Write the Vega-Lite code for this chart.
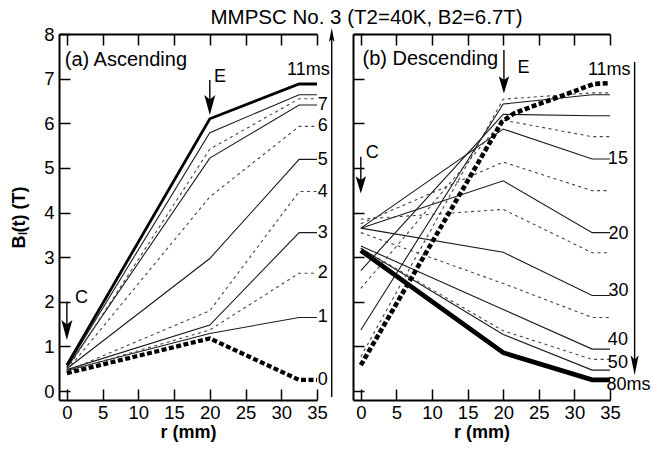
{
  "$schema": "https://vega.github.io/schema/vega-lite/v6.json",
  "padding": {"left": 10, "top": 7, "right": 0, "bottom": 0},
  "title": {"text": "MMPSC No. 3 (T2=40K, B2=6.7T)", "fontSize": 20.5, "fontWeight": "normal", "font": "Liberation Sans", "color": "black", "anchor": "middle", "dx": 36, "offset": -3},
  "spacing": 36,
  "bounds": "flush",
  "config": {
    "font": "Liberation Sans",
    "view": {"stroke": null},
    "axis": {"domainColor": "black", "domainWidth": 2, "tickColor": "black", "tickWidth": 1.5, "tickSize": -11, "labelFont": "Liberation Sans", "labelFontSize": 18.5, "labelColor": "black", "grid": false, "titleFont": "Liberation Sans", "titleFontSize": 18, "titleFontWeight": "bold", "titleColor": "black", "labelFlush": false},
    "text": {"font": "Liberation Sans", "fontSize": 18, "align": "left", "baseline": "middle", "color": "black"}
  },
  "datasets": {
    "lines": [
      {"p":"a","id":"a11","s":"thick","r":0,"B":0.58},{"p":"a","id":"a11","s":"thick","r":20,"B":6.10},{"p":"a","id":"a11","s":"thick","r":32.5,"B":6.88},{"p":"a","id":"a11","s":"thick","r":35,"B":6.88},
      {"p":"a","id":"a9","s":"solid","r":0,"B":0.54},{"p":"a","id":"a9","s":"solid","r":20,"B":5.79},{"p":"a","id":"a9","s":"solid","r":32.5,"B":6.64},{"p":"a","id":"a9","s":"solid","r":35,"B":6.64},
      {"p":"a","id":"a8","s":"dash","r":0,"B":0.48},{"p":"a","id":"a8","s":"dash","r":20,"B":5.42},{"p":"a","id":"a8","s":"dash","r":32.5,"B":6.55},{"p":"a","id":"a8","s":"dash","r":35,"B":6.55},
      {"p":"a","id":"a7","s":"solid","r":0,"B":0.52},{"p":"a","id":"a7","s":"solid","r":20,"B":5.22},{"p":"a","id":"a7","s":"solid","r":32.5,"B":6.41},{"p":"a","id":"a7","s":"solid","r":35,"B":6.41},
      {"p":"a","id":"a6","s":"dash","r":0,"B":0.46},{"p":"a","id":"a6","s":"dash","r":20,"B":4.35},{"p":"a","id":"a6","s":"dash","r":32.5,"B":5.93},{"p":"a","id":"a6","s":"dash","r":35,"B":5.93},
      {"p":"a","id":"a5","s":"solid","r":0,"B":0.50},{"p":"a","id":"a5","s":"solid","r":20,"B":2.97},{"p":"a","id":"a5","s":"solid","r":32.5,"B":5.19},{"p":"a","id":"a5","s":"solid","r":35,"B":5.19},
      {"p":"a","id":"a4","s":"dash","r":0,"B":0.45},{"p":"a","id":"a4","s":"dash","r":20,"B":1.80},{"p":"a","id":"a4","s":"dash","r":32.5,"B":4.47},{"p":"a","id":"a4","s":"dash","r":35,"B":4.47},
      {"p":"a","id":"a3","s":"solid","r":0,"B":0.48},{"p":"a","id":"a3","s":"solid","r":20,"B":1.48},{"p":"a","id":"a3","s":"solid","r":32.5,"B":3.55},{"p":"a","id":"a3","s":"solid","r":35,"B":3.55},
      {"p":"a","id":"a2","s":"dash","r":0,"B":0.44},{"p":"a","id":"a2","s":"dash","r":20,"B":1.37},{"p":"a","id":"a2","s":"dash","r":32.5,"B":2.64},{"p":"a","id":"a2","s":"dash","r":35,"B":2.64},
      {"p":"a","id":"a1","s":"solid","r":0,"B":0.46},{"p":"a","id":"a1","s":"solid","r":20,"B":1.29},{"p":"a","id":"a1","s":"solid","r":32.5,"B":1.65},{"p":"a","id":"a1","s":"solid","r":35,"B":1.65},
      {"p":"a","id":"a0","s":"thickdash","r":0,"B":0.40},{"p":"a","id":"a0","s":"thickdash","r":20,"B":1.18},{"p":"a","id":"a0","s":"thickdash","r":32.5,"B":0.25},{"p":"a","id":"a0","s":"thickdash","r":35,"B":0.25},

      {"p":"b","id":"b11","s":"thickdash","r":0,"B":0.58},{"p":"b","id":"b11","s":"thickdash","r":19.8,"B":6.03},{"p":"b","id":"b11","s":"thickdash","r":21.5,"B":6.22},{"p":"b","id":"b11","s":"thickdash","r":24.8,"B":6.42},{"p":"b","id":"b11","s":"thickdash","r":28.5,"B":6.63},{"p":"b","id":"b11","s":"thickdash","r":32.7,"B":6.88},{"p":"b","id":"b11","s":"thickdash","r":35,"B":6.9},
      {"p":"b","id":"b11a","s":"dash","r":0,"B":0.77},{"p":"b","id":"b11a","s":"dash","r":20,"B":6.54},{"p":"b","id":"b11a","s":"dash","r":32.5,"B":6.68},{"p":"b","id":"b11a","s":"dash","r":35,"B":6.68},
      {"p":"b","id":"b12","s":"solid","r":0,"B":1.37},{"p":"b","id":"b12","s":"solid","r":20,"B":6.43},{"p":"b","id":"b12","s":"solid","r":32.5,"B":6.64},{"p":"b","id":"b12","s":"solid","r":35,"B":6.64},
      {"p":"b","id":"b13","s":"solid","r":0,"B":2.7},{"p":"b","id":"b13","s":"solid","r":20,"B":6.20},{"p":"b","id":"b13","s":"solid","r":32.5,"B":6.17},{"p":"b","id":"b13","s":"solid","r":35,"B":6.17},
      {"p":"b","id":"b14","s":"dash","r":0,"B":2.3},{"p":"b","id":"b14","s":"dash","r":20,"B":6.07},{"p":"b","id":"b14","s":"dash","r":32.5,"B":5.70},{"p":"b","id":"b14","s":"dash","r":35,"B":5.70},
      {"p":"b","id":"b15","s":"solid","r":0,"B":3.65},{"p":"b","id":"b15","s":"solid","r":20,"B":5.87},{"p":"b","id":"b15","s":"solid","r":32.5,"B":5.20},{"p":"b","id":"b15","s":"solid","r":35,"B":5.20},
      {"p":"b","id":"b17","s":"dash","r":0,"B":3.75},{"p":"b","id":"b17","s":"dash","r":20,"B":5.13},{"p":"b","id":"b17","s":"dash","r":32.5,"B":4.49},{"p":"b","id":"b17","s":"dash","r":35,"B":4.49},
      {"p":"b","id":"b20","s":"solid","r":0,"B":3.65},{"p":"b","id":"b20","s":"solid","r":20,"B":4.71},{"p":"b","id":"b20","s":"solid","r":32.5,"B":3.55},{"p":"b","id":"b20","s":"solid","r":35,"B":3.55},
      {"p":"b","id":"b25","s":"dash","r":0,"B":3.85},{"p":"b","id":"b25","s":"dash","r":20,"B":4.07},{"p":"b","id":"b25","s":"dash","r":32.5,"B":3.10},{"p":"b","id":"b25","s":"dash","r":35,"B":3.10},
      {"p":"b","id":"b30","s":"solid","r":0,"B":3.65},{"p":"b","id":"b30","s":"solid","r":20,"B":3.11},{"p":"b","id":"b30","s":"solid","r":32.5,"B":2.14},{"p":"b","id":"b30","s":"solid","r":35,"B":2.14},
      {"p":"b","id":"b35","s":"dash","r":0,"B":3.55},{"p":"b","id":"b35","s":"dash","r":20,"B":2.41},{"p":"b","id":"b35","s":"dash","r":32.5,"B":1.65},{"p":"b","id":"b35","s":"dash","r":35,"B":1.65},
      {"p":"b","id":"b40","s":"solid","r":0,"B":3.25},{"p":"b","id":"b40","s":"solid","r":20,"B":1.83},{"p":"b","id":"b40","s":"solid","r":32.5,"B":0.94},{"p":"b","id":"b40","s":"solid","r":35,"B":0.94},
      {"p":"b","id":"b50","s":"dash","r":0,"B":3.2},{"p":"b","id":"b50","s":"dash","r":20,"B":1.35},{"p":"b","id":"b50","s":"dash","r":32.5,"B":0.71},{"p":"b","id":"b50","s":"dash","r":35,"B":0.71},
      {"p":"b","id":"b60","s":"solid","r":0,"B":3.2},{"p":"b","id":"b60","s":"solid","r":20,"B":1.27},{"p":"b","id":"b60","s":"solid","r":32.5,"B":0.47},{"p":"b","id":"b60","s":"solid","r":35,"B":0.47},
      {"p":"b","id":"b80","s":"heavy","r":0,"B":3.15},{"p":"b","id":"b80","s":"heavy","r":20,"B":0.86},{"p":"b","id":"b80","s":"heavy","r":32.5,"B":0.25},{"p":"b","id":"b80","s":"heavy","r":35,"B":0.25}
    ],
    "labels": [
      {"p":"a","k":"head","r":-0.3,"B":7.42,"t":"(a) Ascending"},
      {"p":"a","k":"tag","r":20.6,"B":7.04,"t":"E"},
      {"p":"a","k":"tag","r":1.14,"B":2.09,"t":"C"},
      {"p":"a","k":"tag","r":30.8,"B":7.2,"t":"11ms"},
      {"p":"a","k":"tag","r":35.1,"B":6.41,"t":"7"},
      {"p":"a","k":"tag","r":35.1,"B":5.93,"t":"6"},
      {"p":"a","k":"tag","r":35.1,"B":5.18,"t":"5"},
      {"p":"a","k":"tag","r":35.1,"B":4.47,"t":"4"},
      {"p":"a","k":"tag","r":35.1,"B":3.54,"t":"3"},
      {"p":"a","k":"tag","r":35.1,"B":2.64,"t":"2"},
      {"p":"a","k":"tag","r":35.1,"B":1.65,"t":"1"},
      {"p":"a","k":"tag","r":35.1,"B":0.25,"t":"0"},
      {"p":"b","k":"head","r":0.24,"B":7.43,"t":"(b) Descending"},
      {"p":"b","k":"tag","r":22.0,"B":7.23,"t":"E"},
      {"p":"b","k":"tag","r":0.7,"B":5.33,"t":"C"},
      {"p":"b","k":"tag","r":31.9,"B":7.2,"t":"11ms"},
      {"p":"b","k":"tag","r":34.7,"B":5.2,"t":"15"},
      {"p":"b","k":"tag","r":34.8,"B":3.52,"t":"20"},
      {"p":"b","k":"tag","r":34.8,"B":2.24,"t":"30"},
      {"p":"b","k":"tag","r":34.7,"B":1.14,"t":"40"},
      {"p":"b","k":"tag","r":34.7,"B":0.63,"t":"50"},
      {"p":"b","k":"tag","r":34.5,"B":0.13,"t":"80ms"}
    ],
    "arrows": [
      {"p":"a","r":20,"B":6.97,"B2":6.45},
      {"p":"a","r":0,"B":2.0,"B2":1.45},
      {"p":"a","r":37.06,"B":-0.13,"B2":7.95},
      {"p":"b","r":20.1,"B":7.64,"B2":6.9},
      {"p":"b","r":0,"B":5.25,"B2":4.7},
      {"p":"b","r":38.46,"B":7.37,"B2":0.6}
    ],
    "heads": [
      {"p":"a","k":"mark","r":20,"B":6.41},
      {"p":"a","k":"mark","r":0,"B":1.37},
      {"p":"a","k":"up","r":37.06,"B":7.98},
      {"p":"b","k":"mark","r":20.1,"B":6.86},
      {"p":"b","k":"mark","r":0,"B":4.62},
      {"p":"b","k":"down","r":38.46,"B":0.58}
    ]
  },
  "hconcat": [
    {
      "width": 258,
      "height": 366,
      "resolve": {"scale": {"x": "shared", "y": "shared"}, "axis": {"x": "independent"}},
      "layer": [
        {
          "data": {"name": "lines"},
          "transform": [{"filter": "datum.p === 'a' && datum.s === 'solid'"}],
          "mark": {"type": "line", "strokeWidth": 1.1, "color": "#1a1a1a"},
          "encoding": {
            "x": {"field": "r", "type": "quantitative", "scale": {"domain": [-1.1, 35], "nice": false, "zero": false},
                  "axis": {"values": [0,5,10,15,20,25,30,35], "title": "r (mm)", "labelPadding": 14, "titlePadding": 2}},
            "y": {"field": "B", "type": "quantitative", "scale": {"domain": [-0.2, 8], "nice": false, "zero": false},
                  "axis": {"values": [0,1,2,3,4,5,6,7,8], "title": "Bₗ(t) (T)", "labelPadding": 16, "titlePadding": 15}},
            "detail": {"field": "id"}
          }
        },
        {
          "data": {"name": "lines"},
          "transform": [{"filter": "datum.p === 'a' && datum.s === 'dash'"}],
          "mark": {"type": "line", "strokeWidth": 1.1, "color": "#444", "strokeDash": [3, 3.5]},
          "encoding": {
            "x": {"field": "r", "type": "quantitative", "axis": null},
            "y": {"field": "B", "type": "quantitative"},
            "detail": {"field": "id"}
          }
        },
        {
          "data": {"name": "lines"},
          "transform": [{"filter": "datum.p === 'a' && datum.s === 'thick'"}],
          "mark": {"type": "line", "strokeWidth": 2.8, "color": "black"},
          "encoding": {
            "x": {"field": "r", "type": "quantitative", "axis": null},
            "y": {"field": "B", "type": "quantitative"},
            "detail": {"field": "id"}
          }
        },
        {
          "data": {"name": "lines"},
          "transform": [{"filter": "datum.p === 'a' && datum.s === 'thickdash'"}],
          "mark": {"type": "line", "strokeWidth": 4.2, "color": "black", "strokeDash": [5, 2.5]},
          "encoding": {
            "x": {"field": "r", "type": "quantitative", "axis": null},
            "y": {"field": "B", "type": "quantitative"},
            "detail": {"field": "id"}
          }
        },
        {
          "data": {"name": "arrows"},
          "transform": [{"filter": "datum.p === 'a'"}],
          "mark": {"type": "rule", "strokeWidth": 1.4, "color": "black"},
          "encoding": {
            "x": {"field": "r", "type": "quantitative", "axis": null},
            "y": {"field": "B", "type": "quantitative"},
            "y2": {"field": "B2"}
          }
        },
        {
          "data": {"name": "heads"},
          "transform": [{"filter": "datum.p === 'a' && datum.k === 'mark'"}],
          "mark": {"type": "point", "filled": true, "color": "black", "opacity": 1, "size": 400, "shape": "M0,1 L-0.55,-1 L0,-0.55 L0.55,-1 Z"},
          "encoding": {
            "x": {"field": "r", "type": "quantitative", "axis": null},
            "y": {"field": "B", "type": "quantitative"}
          }
        },
        {
          "data": {"name": "heads"},
          "transform": [{"filter": "datum.p === 'a' && datum.k === 'up'"}],
          "mark": {"type": "point", "filled": true, "color": "black", "opacity": 1, "size": 196, "shape": "M0,-1 L-0.4,1 L0,0.6 L0.4,1 Z"},
          "encoding": {
            "x": {"field": "r", "type": "quantitative", "axis": null},
            "y": {"field": "B", "type": "quantitative"}
          }
        },
        {
          "data": {"name": "labels"},
          "transform": [{"filter": "datum.p === 'a' && datum.k === 'head'"}],
          "mark": {"type": "text", "fontSize": 20},
          "encoding": {
            "x": {"field": "r", "type": "quantitative", "axis": null},
            "y": {"field": "B", "type": "quantitative"},
            "text": {"field": "t"}
          }
        },
        {
          "data": {"name": "labels"},
          "transform": [{"filter": "datum.p === 'a' && datum.k === 'tag'"}],
          "mark": {"type": "text"},
          "encoding": {
            "x": {"field": "r", "type": "quantitative",
                  "axis": {"orient": "top", "labels": false, "values": [0,5,10,15,20,25,30,35], "title": null}},
            "y": {"field": "B", "type": "quantitative"},
            "text": {"field": "t"}
          }
        }
      ]
    },
    {
      "width": 257,
      "height": 366,
      "resolve": {"scale": {"x": "shared", "y": "shared"}, "axis": {"x": "independent"}},
      "layer": [
        {
          "data": {"name": "lines"},
          "transform": [{"filter": "datum.p === 'b' && datum.s === 'solid'"}],
          "mark": {"type": "line", "strokeWidth": 1.1, "color": "#1a1a1a"},
          "encoding": {
            "x": {"field": "r", "type": "quantitative", "scale": {"domain": [-1.1, 35], "nice": false, "zero": false},
                  "axis": {"values": [0,5,10,15,20,25,30,35], "title": "r (mm)", "labelPadding": 14, "titlePadding": 2}},
            "y": {"field": "B", "type": "quantitative", "scale": {"domain": [-0.2, 8], "nice": false, "zero": false},
                  "axis": {"values": [0,1,2,3,4,5,6,7,8], "title": null, "labels": false}},
            "detail": {"field": "id"}
          }
        },
        {
          "data": {"name": "lines"},
          "transform": [{"filter": "datum.p === 'b' && datum.s === 'dash'"}],
          "mark": {"type": "line", "strokeWidth": 1.1, "color": "#444", "strokeDash": [3, 3.5]},
          "encoding": {
            "x": {"field": "r", "type": "quantitative", "axis": null},
            "y": {"field": "B", "type": "quantitative"},
            "detail": {"field": "id"}
          }
        },
        {
          "data": {"name": "lines"},
          "transform": [{"filter": "datum.p === 'b' && datum.s === 'heavy'"}],
          "mark": {"type": "line", "strokeWidth": 4.8, "color": "black"},
          "encoding": {
            "x": {"field": "r", "type": "quantitative", "axis": null},
            "y": {"field": "B", "type": "quantitative"},
            "detail": {"field": "id"}
          }
        },
        {
          "data": {"name": "lines"},
          "transform": [{"filter": "datum.p === 'b' && datum.s === 'thickdash'"}],
          "mark": {"type": "line", "strokeWidth": 4.6, "color": "black", "strokeDash": [5, 2.5]},
          "encoding": {
            "x": {"field": "r", "type": "quantitative", "axis": null},
            "y": {"field": "B", "type": "quantitative"},
            "detail": {"field": "id"}
          }
        },
        {
          "data": {"name": "arrows"},
          "transform": [{"filter": "datum.p === 'b'"}],
          "mark": {"type": "rule", "strokeWidth": 1.4, "color": "black"},
          "encoding": {
            "x": {"field": "r", "type": "quantitative", "axis": null},
            "y": {"field": "B", "type": "quantitative"},
            "y2": {"field": "B2"}
          }
        },
        {
          "data": {"name": "heads"},
          "transform": [{"filter": "datum.p === 'b' && datum.k === 'mark'"}],
          "mark": {"type": "point", "filled": true, "color": "black", "opacity": 1, "size": 300, "shape": "M0,1 L-0.6,-1 L0,-0.55 L0.6,-1 Z"},
          "encoding": {
            "x": {"field": "r", "type": "quantitative", "axis": null},
            "y": {"field": "B", "type": "quantitative"}
          }
        },
        {
          "data": {"name": "heads"},
          "transform": [{"filter": "datum.p === 'b' && datum.k === 'down'"}],
          "mark": {"type": "point", "filled": true, "color": "black", "opacity": 1, "size": 400, "shape": "M0,1 L-0.4,-1 L0,-0.55 L0.4,-1 Z"},
          "encoding": {
            "x": {"field": "r", "type": "quantitative", "axis": null},
            "y": {"field": "B", "type": "quantitative"}
          }
        },
        {
          "data": {"name": "labels"},
          "transform": [{"filter": "datum.p === 'b' && datum.k === 'head'"}],
          "mark": {"type": "text", "fontSize": 20},
          "encoding": {
            "x": {"field": "r", "type": "quantitative", "axis": null},
            "y": {"field": "B", "type": "quantitative"},
            "text": {"field": "t"}
          }
        },
        {
          "data": {"name": "labels"},
          "transform": [{"filter": "datum.p === 'b' && datum.k === 'tag'"}],
          "mark": {"type": "text"},
          "encoding": {
            "x": {"field": "r", "type": "quantitative",
                  "axis": {"orient": "top", "labels": false, "values": [0,5,10,15,20,25,30,35], "title": null}},
            "y": {"field": "B", "type": "quantitative"},
            "text": {"field": "t"}
          }
        }
      ]
    }
  ]
}
